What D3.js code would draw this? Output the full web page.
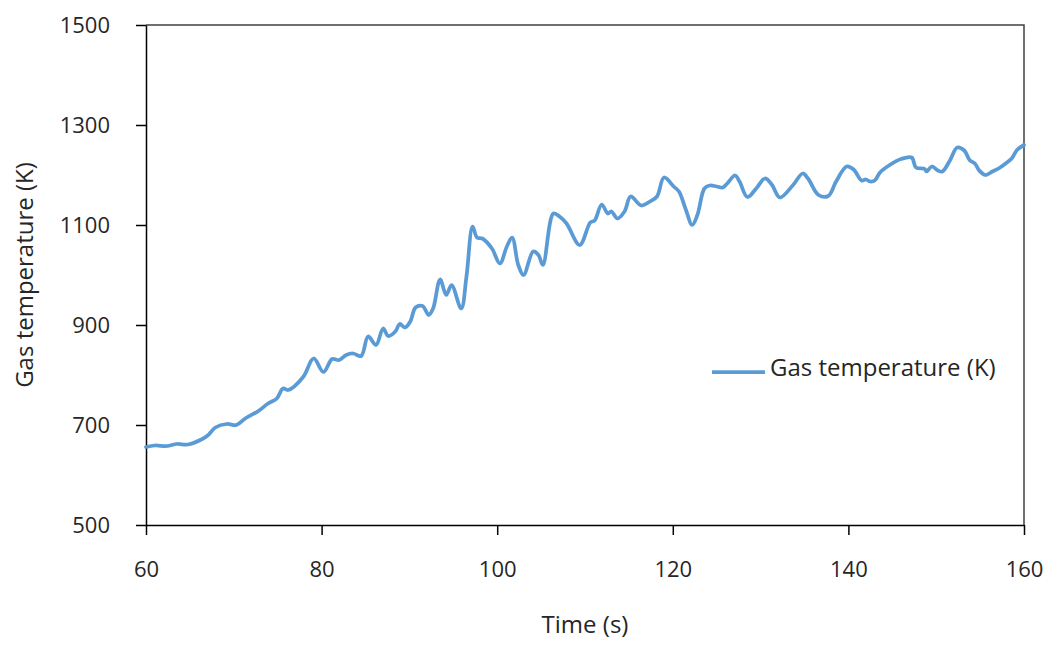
<!doctype html>
<html lang="en">

<head>
    <meta charset="UTF-8" />
    <script src="https://d3js.org/d3.v7.min.js"></script>
    <title>Gas temperature</title>
    <style>
        body { margin: 0; background: #fff; }
        text { font-family: "Open Sans", "Noto Sans", sans-serif; fill: #262626; }
    </style>
</head>

<body>
    <div id="chart"></div>
    <script>
        // Time (s) and gas temperature (K)
        const times = [
            60.0, 61.0, 62.4, 63.5, 64.8, 66.3, 67.1, 67.9, 69.2, 70.3,
            71.3, 72.8, 73.9, 74.9, 75.6, 76.2, 77.9, 79.1, 80.2, 81.2,
            82.0, 82.8, 83.6, 84.5, 85.3, 86.2, 87.0, 87.6, 88.4, 88.9,
            89.5, 90.1, 90.7, 91.5, 92.2, 92.7, 93.5, 94.2, 94.8, 95.9,
            96.5, 97.2, 97.7, 98.3, 99.4, 100.3, 101.1, 101.7, 102.4, 103.0,
            104.1, 104.7, 105.2, 106.4, 107.1, 107.9, 109.4, 110.6, 111.1, 111.9,
            112.6, 113.0, 113.7, 114.5, 115.2, 116.4, 117.4, 118.2, 119.0, 120.1,
            120.7, 121.5, 122.2, 122.8, 123.6, 124.2, 125.0, 125.7, 126.2, 127.1,
            127.6, 128.5, 129.5, 130.5, 131.3, 132.2, 133.7, 134.8, 135.4, 136.6,
            137.7, 138.6, 139.8, 140.6, 141.5, 142.0, 142.5, 143.0, 143.6, 144.7,
            146.0, 147.2, 147.7, 148.7, 148.9, 149.5, 150.2, 150.7, 151.5, 152.4,
            153.2, 153.8, 154.4, 154.9, 155.6, 156.4, 157.1, 157.9, 158.6, 159.2,
            160.0
        ]
        const temps = [
            656, 659, 658, 662, 661, 671, 680, 695, 702, 700,
            713, 728, 743, 753, 773, 770, 796, 833, 806, 832,
            830, 840, 843, 838, 877, 860, 893, 878, 887, 902,
            895, 907, 935, 938, 920, 933, 991, 960, 980, 933,
            997, 1097, 1075, 1073, 1053, 1023, 1057, 1075, 1020, 1000,
            1047, 1040, 1020, 1123, 1117, 1103, 1060, 1105, 1109, 1141,
            1123, 1127, 1113, 1127, 1157, 1139, 1147, 1157, 1195, 1177,
            1167, 1130, 1100, 1120, 1173, 1179, 1177, 1175, 1183, 1199,
            1187, 1156, 1173, 1193, 1180, 1155, 1180, 1203, 1193, 1160,
            1158, 1187, 1217, 1211, 1189, 1191, 1187, 1189, 1205, 1220,
            1232, 1235, 1215, 1212, 1207, 1217, 1209, 1207, 1227, 1255,
            1249, 1230, 1223, 1209, 1200, 1207, 1213, 1223, 1233, 1250,
            1260
        ]
        const xTicks = [60, 80, 100, 120, 140, 160]
        const yTicks = [500, 700, 900, 1100, 1300, 1500]
        const seriesName = "Gas temperature (K)"

        const W = 1052
        const H = 646
        const margin = { top: 25, right: 28, bottom: 121, left: 146 }
        const width = W - margin.left - margin.right
        const height = H - margin.top - margin.bottom
        const lineColor = "#5b9bd5"

        const data = times.map((t, i) => ({ t, v: temps[i] }))

        const x = d3.scaleLinear().domain([60, 160]).range([0, width])
        const y = d3.scaleLinear().domain([500, 1500]).range([height, 0])

        const svg = d3.select("#chart")
            .append("svg")
            .attr("width", W)
            .attr("height", H)
            .append("g")
            .attr("transform", `translate(${margin.left},${margin.top})`)

        // plot frame (top and right edges)
        svg.append("path")
            .attr("d", `M0,0H${width}V${height}`)
            .attr("fill", "none")
            .attr("stroke", "#404040")
            .attr("stroke-width", 1.5)

        // axes
        const xAxis = svg.append("g")
            .attr("transform", `translate(0,${height})`)
            .call(d3.axisBottom(x).tickValues(xTicks).tickFormat(d3.format("d"))
                .tickSize(10).tickSizeOuter(0).tickPadding(26))
        const yAxis = svg.append("g")
            .call(d3.axisLeft(y).tickValues(yTicks).tickFormat(d3.format("d"))
                .tickSize(10).tickSizeOuter(0).tickPadding(26))

        ;[xAxis, yAxis].forEach(a => {
            a.selectAll("path, line").attr("stroke", "#000").attr("stroke-width", 1.5)
            a.selectAll("text").attr("font-size", 22).attr("fill", "#262626")
                .attr("font-family", "'Open Sans', 'Noto Sans', sans-serif")
        })

        // line
        const line = d3.line()
            .x(d => x(d.t))
            .y(d => y(d.v))
            .curve(d3.curveCatmullRom.alpha(0.5))

        svg.append("path")
            .datum(data)
            .attr("d", line)
            .attr("fill", "none")
            .attr("stroke", lineColor)
            .attr("stroke-width", 3.75)
            .attr("stroke-linejoin", "round")
            .attr("stroke-linecap", "round")

        // axis titles
        svg.append("text")
            .attr("x", width / 2)
            .attr("y", height + 108)
            .attr("text-anchor", "middle")
            .attr("font-size", 24)
            .text("Time (s)")

        svg.append("text")
            .attr("transform", "rotate(-90)")
            .attr("x", -height / 2)
            .attr("y", -113)
            .attr("text-anchor", "middle")
            .attr("font-size", 24)
            .text("Gas temperature (K)")

        // legend
        const legend = svg.append("g")
            .attr("transform", `translate(${712 - margin.left},${372 - margin.top})`)
        legend.append("line")
            .attr("x1", 0).attr("x2", 53)
            .attr("stroke", lineColor)
            .attr("stroke-width", 3.75)
        legend.append("text")
            .attr("x", 58)
            .attr("y", -2)
            .attr("font-size", 24)
            .attr("dominant-baseline", "middle")
            .text(seriesName)
    </script>
</body>

</html>
